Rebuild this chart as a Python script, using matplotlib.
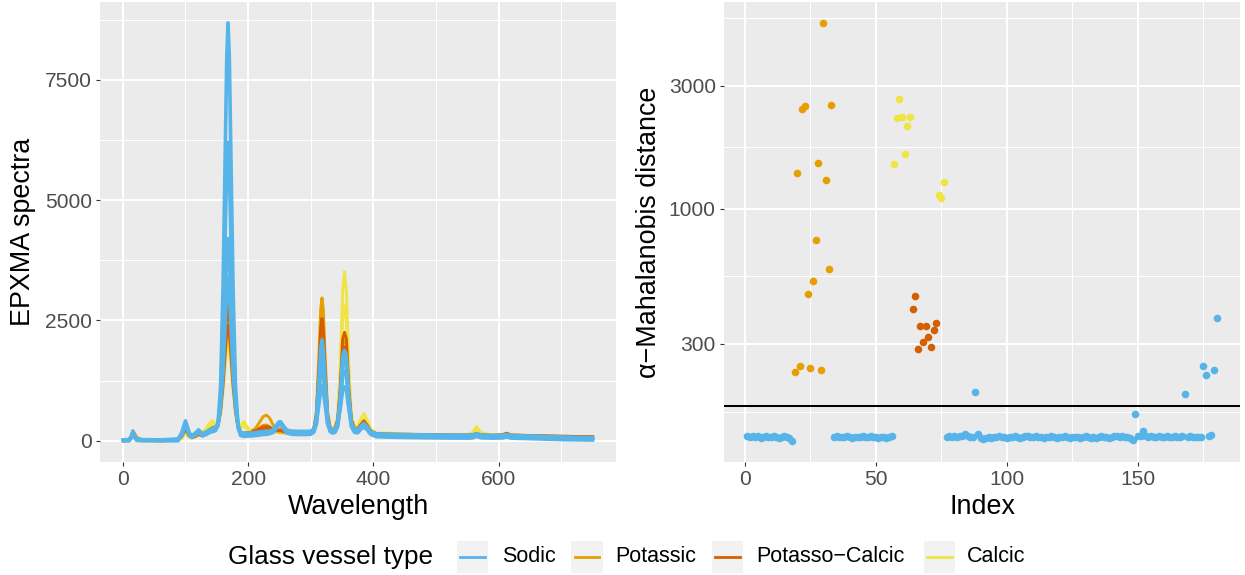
import numpy as np
import matplotlib
matplotlib.use("Agg")
import matplotlib.pyplot as plt
from matplotlib.patches import Rectangle
from matplotlib.lines import Line2D
from matplotlib.ticker import FixedLocator, NullFormatter

plt.rcParams['font.family'] = ['Liberation Sans', 'DejaVu Sans']

# ---------------- data ----------------
groups = ["Sodic", "Potassic", "Potasso\u2212Calcic", "Calcic"]
colors = {"Sodic": "#56B4E9", "Potassic": "#E69F00",
          "Potasso\u2212Calcic": "#D55E00", "Calcic": "#F0E442"}

wavelength = [1, 10, 14, 16, 18, 22, 30, 60,
              88, 94, 100, 106, 110, 115, 121, 127, 133, 138,
              143, 148, 152, 156, 160, 163, 166, 168, 170, 173,
              176, 180, 184, 188, 193, 198, 205, 212, 218, 224,
              229, 234, 240, 245, 249, 252, 256, 262, 270, 290,
              300, 305, 309, 313, 316, 318, 320, 323, 327, 331,
              335, 339, 343, 347, 351, 354, 357, 361, 365, 370,
              375, 380, 385, 390, 396, 405, 426, 450, 500, 550,
              558, 565, 572, 590, 606, 613, 620, 650, 700, 750]

sodic_spectra = [
    [20, 25, 90, 170, 110, 40, 25, 20,
     35, 140, 360, 150, 110, 140, 200, 150, 180, 230,
     250, 270, 360, 800, 1700, 2800, 3900, 4200, 3900, 2800,
     1700, 800, 330, 170, 160, 155, 160, 170, 180, 190,
     195, 200, 230, 300, 350, 360, 300, 220, 200, 195,
     200, 240, 350, 750, 1050, 1150, 1050, 750, 350, 240,
     230, 250, 330, 650, 1050, 1120, 1050, 650, 330, 240,
     230, 280, 320, 270, 190, 145, 135, 130, 120, 115,
     120, 150, 120, 110, 115, 130, 110, 100, 80, 65],
    [15, 18, 80, 160, 100, 30, 18, 15,
     30, 130, 380, 140, 95, 130, 210, 130, 160, 210,
     230, 250, 330, 700, 1400, 2300, 3150, 3400, 3150, 2300,
     1400, 700, 300, 150, 140, 140, 150, 160, 170, 180,
     185, 190, 220, 300, 360, 370, 300, 210, 185, 180,
     185, 230, 420, 1100, 1650, 1800, 1650, 1100, 420, 230,
     210, 240, 350, 800, 1550, 1650, 1550, 800, 350, 230,
     220, 290, 340, 280, 180, 130, 120, 115, 105, 100,
     110, 140, 110, 100, 105, 125, 100, 90, 70, 55],
    [0, 0, 70, 150, 90, 10, 0, 0,
     0, 110, 330, 120, 70, 110, 180, 100, 130, 170,
     190, 210, 320, 850, 2300, 4000, 5700, 6200, 5700, 4000,
     2300, 850, 270, 110, 95, 95, 100, 110, 120, 130,
     135, 145, 175, 260, 320, 330, 260, 160, 135, 130,
     135, 180, 350, 950, 1450, 1600, 1450, 950, 350, 190,
     160, 180, 290, 700, 1350, 1450, 1350, 700, 290, 175,
     165, 240, 290, 230, 130, 85, 75, 70, 60, 55,
     60, 95, 62, 55, 60, 80, 55, 45, 25, 15],
    [10, 12, 110, 200, 130, 30, 15, 10,
     25, 170, 415, 170, 105, 150, 228, 140, 170, 210,
     235, 250, 380, 1100, 3200, 5600, 8000, 8680, 8000, 5600,
     3200, 1100, 330, 150, 135, 130, 140, 150, 160, 170,
     175, 185, 220, 320, 390, 395, 320, 200, 170, 165,
     170, 230, 460, 1250, 1930, 2100, 1930, 1250, 460, 240,
     200, 230, 370, 900, 1760, 1880, 1760, 900, 370, 220,
     210, 300, 360, 290, 170, 120, 110, 105, 95, 90,
     100, 135, 100, 90, 95, 118, 90, 80, 60, 45],
]

potassic_spectra = [
    [5, 10, 120, 210, 170, 80, 20, 5,
     15, 90, 250, 110, 70, 90, 140, 110, 150, 200,
     230, 260, 330, 700, 1400, 2100, 2800, 3000, 2800, 2100,
     1400, 700, 330, 180, 165, 170, 200, 260, 380, 500,
     534, 480, 330, 230, 200, 195, 190, 180, 175, 170,
     175, 250, 600, 1750, 2750, 2968, 2750, 1750, 600, 280,
     230, 260, 420, 1050, 1980, 2100, 1980, 1050, 420, 250,
     240, 340, 420, 330, 200, 150, 140, 135, 125, 120,
     125, 150, 125, 115, 125, 160, 120, 110, 95, 85],
    [0, 5, 100, 180, 150, 60, 10, 0,
     10, 70, 200, 90, 60, 80, 120, 100, 140, 180,
     210, 230, 300, 620, 1200, 1850, 2450, 2600, 2450, 1850,
     1200, 620, 290, 160, 150, 150, 170, 210, 270, 320,
     330, 300, 230, 190, 175, 170, 165, 160, 155, 155,
     160, 220, 480, 1350, 2130, 2300, 2130, 1350, 480, 240,
     200, 230, 360, 880, 1650, 1750, 1650, 880, 360, 230,
     220, 300, 370, 290, 180, 140, 130, 125, 115, 110,
     115, 140, 115, 105, 115, 150, 110, 100, 85, 75],
]

potasso_calcic_spectra = [
    [5, 10, 90, 160, 120, 40, 15, 5,
     15, 100, 270, 120, 80, 100, 150, 120, 170, 230,
     270, 290, 350, 680, 1300, 1950, 2600, 2800, 2600, 1950,
     1300, 680, 320, 170, 160, 160, 180, 210, 250, 290,
     300, 280, 240, 230, 230, 230, 210, 190, 180, 175,
     180, 240, 540, 1500, 2350, 2544, 2350, 1500, 540, 270,
     230, 270, 440, 1080, 2120, 2253, 2120, 1080, 440, 260,
     250, 340, 416, 330, 200, 150, 140, 135, 125, 120,
     125, 145, 125, 115, 125, 155, 120, 110, 95, 85],
    [0, 5, 80, 150, 110, 30, 10, 0,
     10, 90, 240, 100, 70, 90, 140, 110, 160, 210,
     250, 270, 330, 600, 1150, 1700, 2250, 2400, 2250, 1700,
     1150, 600, 290, 160, 150, 150, 170, 190, 220, 250,
     260, 245, 215, 205, 205, 205, 190, 175, 170, 165,
     170, 220, 460, 1250, 1950, 2100, 1950, 1250, 460, 240,
     210, 250, 390, 940, 1840, 1950, 1840, 940, 390, 240,
     230, 310, 380, 300, 185, 140, 130, 125, 115, 110,
     115, 135, 115, 105, 115, 145, 110, 100, 85, 75],
]

calcic_spectra = [
    [0, 5, 70, 130, 100, 30, 10, 0,
     10, 60, 160, 90, 80, 110, 150, 180, 260, 360,
     416, 330, 340, 620, 1150, 1750, 2350, 2500, 2350, 1750,
     1150, 620, 320, 300, 402, 300, 180, 165, 165, 170,
     175, 175, 180, 190, 195, 195, 190, 180, 175, 170,
     175, 220, 400, 1050, 1580, 1700, 1580, 1050, 400, 250,
     260, 310, 520, 1500, 3100, 3515, 3100, 1500, 520, 300,
     300, 450, 568, 440, 240, 160, 160, 140, 130, 125,
     170, 291, 170, 120, 125, 150, 120, 110, 95, 85],
    [0, 5, 60, 120, 90, 20, 5, 0,
     5, 50, 140, 80, 70, 100, 130, 160, 220, 300,
     330, 280, 300, 550, 1000, 1500, 1950, 2100, 1950, 1500,
     1000, 550, 290, 260, 320, 250, 170, 155, 155, 160,
     165, 165, 170, 180, 185, 185, 180, 170, 165, 160,
     165, 200, 350, 900, 1350, 1450, 1350, 900, 350, 230,
     240, 280, 450, 1230, 2500, 2800, 2500, 1230, 450, 270,
     270, 380, 450, 360, 210, 150, 150, 130, 120, 115,
     150, 230, 150, 110, 115, 140, 110, 100, 85, 75],
]

# alpha-Mahalanobis distances by observation index
sodic_index = list(range(1, 19)) + list(range(34, 57)) + list(range(77, 181))
sodic_dist = [131, 130, 131, 130, 131, 129, 130, 131, 130, 130, 131, 130, 129, 130, 131, 130, 129, 126,
              130, 131, 130, 130, 130, 131, 130, 129, 130, 130, 130, 131, 130, 130, 131, 130, 130, 129,
              130, 130, 129, 130, 131,
              130, 131, 130, 131, 130, 131, 132, 134, 131, 130, 130, 195, 134, 129, 128, 129, 130, 129,
              130, 130, 131, 130, 130, 129, 130, 130, 131, 130, 129, 130, 131, 132, 130, 130, 131, 130,
              130, 129, 130, 130, 131, 130, 129, 130, 130, 131, 130, 129, 130, 130, 130, 129, 130, 131,
              130, 129, 130, 129, 130, 131, 130, 130, 129, 130, 131, 132, 130, 131, 130, 130, 129, 127,
              160, 131, 132, 137, 131, 130, 131, 130, 130, 131, 130, 130, 131, 130, 130, 131, 130, 130,
              131, 192, 130, 131, 130, 130, 130, 130, 245, 226, 131, 133, 238, 378]
potassic_index = list(range(19, 34))
potassic_dist = [233, 1375, 246, 2449, 2507, 467, 241, 525, 756, 1503, 238, 5260, 1292, 582, 2522]
calcic_index = list(range(57, 64)) + [74, 75, 76]
calcic_dist = [1494, 2240, 2661, 2274, 1630, 2093, 2274, 1133, 1103, 1273]
pc_index = list(range(64, 74))
pc_dist = [408, 460, 286, 352, 305, 352, 319, 290, 340, 360]
cutoff = 172.3

for c in sodic_spectra + potassic_spectra + potasso_calcic_spectra + calcic_spectra:
    assert len(c) == len(wavelength), len(c)
assert len(sodic_index) == len(sodic_dist), (len(sodic_index), len(sodic_dist))

# ---------------- figure ----------------
W, H = 1245, 575
fig = plt.figure(figsize=(W / 100, H / 100), dpi=100)
panel_bottom = 1 - 461.7 / H
panel_h = 459.7 / H
ax1 = fig.add_axes([100 / W, panel_bottom, 516 / W, panel_h])
ax2 = fig.add_axes([724 / W, panel_bottom, 516 / W, panel_h])

BG = "#EBEBEB"
TICKC = "#4D4D4D"
for ax in (ax1, ax2):
    ax.set_facecolor(BG)
    for s in ax.spines.values():
        s.set_visible(False)
    ax.set_axisbelow(True)
    ax.grid(which="major", color="white", lw=1.45)
    ax.grid(which="minor", color="white", lw=0.72)
    ax.tick_params(which="major", length=3.0, width=0.8, color="#333333",
                   labelcolor=TICKC, labelsize=15.1, pad=3.0)
    ax.tick_params(which="minor", length=0)

# left panel: spectra
lw = 2.1
for c in potassic_spectra:
    ax1.plot(wavelength, c, color=colors["Potassic"], lw=lw, solid_joinstyle="round")
for c in calcic_spectra:
    ax1.plot(wavelength, c, color=colors["Calcic"], lw=lw, solid_joinstyle="round")
for c in potasso_calcic_spectra:
    ax1.plot(wavelength, c, color=colors["Potasso\u2212Calcic"], lw=lw, solid_joinstyle="round")
for c in sodic_spectra:
    ax1.plot(wavelength, c, color=colors["Sodic"], lw=2.6, solid_joinstyle="round")

allv = [v for c in sodic_spectra + potassic_spectra + potasso_calcic_spectra + calcic_spectra for v in c]
x0, x1 = min(wavelength), max(wavelength)
ax1.set_xlim(x0 - 0.05 * (x1 - x0), x1 + 0.05 * (x1 - x0))
y0, y1 = min(allv), max(allv)
ax1.set_ylim(y0 - 0.05 * (y1 - y0), y1 + 0.05 * (y1 - y0))
ax1.set_xticks([0, 200, 400, 600])
ax1.set_xticks([100, 300, 500, 700], minor=True)
ax1.set_yticks([0, 2500, 5000, 7500])
ax1.set_yticks([1250, 3750, 6250, 8750], minor=True)
ax1.set_xlabel("Wavelength", fontsize=19.4)
ax1.set_ylabel("EPXMA spectra", fontsize=19.4)
ax1.xaxis.set_label_coords(0.5, (461.7 - 507) / 459.7)
ax1.xaxis.label.set_va("center")
ax1.yaxis.set_label_coords((23 - 100) / 516, 0.5)
ax1.yaxis.label.set_va("center")

# right panel: distances
ms = 30
ax2.scatter(sodic_index, sodic_dist, s=ms, color=colors["Sodic"], linewidths=0, zorder=3)
ax2.scatter(potassic_index, potassic_dist, s=ms, color=colors["Potassic"], linewidths=0, zorder=3)
ax2.scatter(calcic_index, calcic_dist, s=ms, color=colors["Calcic"], linewidths=0, zorder=3)
ax2.scatter(pc_index, pc_dist, s=ms, color=colors["Potasso\u2212Calcic"], linewidths=0, zorder=3)
ax2.axhline(cutoff, color="black", lw=1.45, zorder=4)

ax2.set_yscale("log")
alld = sodic_dist + potassic_dist + calcic_dist + pc_dist
allidx = sodic_index + potassic_index + calcic_index + pc_index
l0, l1 = np.log10(min(alld)), np.log10(max(alld))
ax2.set_ylim(10 ** (l0 - 0.05 * (l1 - l0)), 10 ** (l1 + 0.05 * (l1 - l0)))
i0, i1 = min(allidx), max(allidx)
ax2.set_xlim(i0 - 0.05 * (i1 - i0), i1 + 0.05 * (i1 - i0))
ax2.yaxis.set_major_locator(FixedLocator([300, 1000, 3000]))
ax2.set_yticklabels(["300", "1000", "3000"])
ax2.yaxis.set_minor_locator(FixedLocator([163.5, 548, 1732, 5477]))
ax2.yaxis.set_minor_formatter(NullFormatter())
ax2.set_xticks([0, 50, 100, 150])
ax2.set_xticks([25, 75, 125, 175], minor=True)
ax2.tick_params(which="minor", length=0)
ax2.set_xlabel("Index", fontsize=19.4)
ax2.set_ylabel("\u03b1\u2212Mahalanobis distance", fontsize=19.4)
ax2.xaxis.set_label_coords(0.5, (461.7 - 507) / 459.7)
ax2.xaxis.label.set_va("center")
ax2.yaxis.set_label_coords((649 - 724) / 516, 0.5)
ax2.yaxis.label.set_va("center")

# legend (bottom, horizontal)
def fx(px):
    return px / W

def fy(py):
    return 1 - py / H

ly = 557
fig.text(fx(228), fy(ly), "Glass vessel type", fontsize=18.8, ha="left", va="center")
key_x = [456.6, 571.2, 711.6, 923.5]
lab_x = [502.3, 615.4, 756.3, 966.6]
kw = 31.5
for g, kx, tx in zip(groups, key_x, lab_x):
    fig.add_artist(Rectangle((fx(kx), fy(ly + kw / 2)), fx(kw), kw / H, transform=fig.transFigure,
                             facecolor="#F2F2F2", edgecolor="none"))
    fig.add_artist(Line2D([fx(kx + 3.5), fx(kx + kw - 3.5)], [fy(ly), fy(ly)],
                          transform=fig.transFigure, color=colors[g], lw=2.0))
    fig.text(fx(tx), fy(ly), g, fontsize=15.5, ha="left", va="center")

fig.savefig("out.png", dpi=100)
